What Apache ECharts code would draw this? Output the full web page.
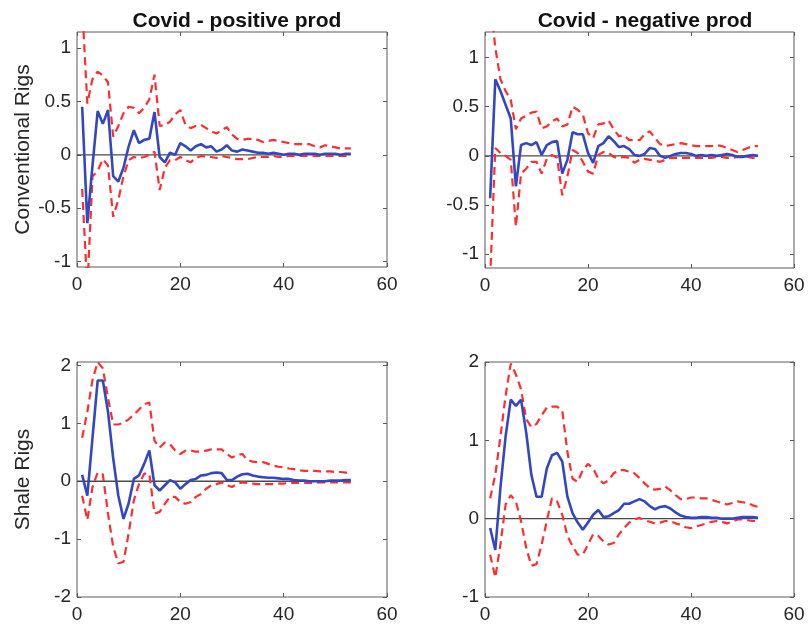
<!DOCTYPE html>
<html>
<head>
<meta charset="utf-8">
<title>Impulse responses of rig counts</title>
<script src="https://cdn.jsdelivr.net/npm/echarts@6/dist/echarts.min.js"></script>
<style>
  html, body { margin: 0; padding: 0; background: #fff; }
  #chart { width: 808px; height: 633px; }
</style>
</head>
<body>
<div id="chart"></div>
<script>
// Horizons (weeks after the shock)
const horizons = [1,2,3,4,5,6,7,8,9,10,11,12,13,14,15,16,17,18,19,20,21,22,23,24,25,26,27,28,29,30,31,32,33,34,35,36,37,38,39,40,41,42,43,44,45,46,47,48,49,50,51,52,53];

const columnTitles = ['Covid - positive prod', 'Covid - negative prod'];
const rowTitles = ['Conventional Rigs', 'Shale Rigs'];

const xTicks = [0, 20, 40, 60];
const yTicksConventional = [-1, -0.5, 0, 0.5, 1];
const yTicksShalePos = [-2, -1, 0, 1, 2];
const yTicksShaleNeg = [-1, 0, 1, 2];

// Conventional rigs, positive production shock
const convPosIrf = [0.45,-0.64,-0.1,0.41,0.29,0.42,-0.2,-0.25,-0.12,0.08,0.23,0.11,0.14,0.15,0.4,-0.02,-0.07,0.02,0.0,0.11,0.08,0.04,0.08,0.1,0.07,0.08,0.03,0.05,0.09,0.04,0.03,0.05,0.04,0.03,0.02,0.02,0.01,0.02,0.01,0.0,0.01,0.01,0.0,0.01,0.01,0.01,0.0,0.01,0.01,0.01,0.0,0.01,0.01];
const convPosUpper = [1.4,0.48,0.71,0.78,0.74,0.68,0.17,0.27,0.39,0.45,0.44,0.39,0.44,0.52,0.75,0.27,0.28,0.31,0.38,0.42,0.28,0.25,0.27,0.28,0.25,0.22,0.2,0.23,0.26,0.19,0.15,0.14,0.15,0.15,0.14,0.12,0.13,0.14,0.13,0.12,0.11,0.1,0.1,0.1,0.1,0.08,0.07,0.09,0.08,0.07,0.06,0.06,0.06];
const convPosLower = [-0.32,-1.25,-0.2,-0.15,-0.04,-0.1,-0.58,-0.42,-0.2,-0.05,-0.02,-0.03,-0.02,0.0,0.03,-0.33,-0.12,-0.05,-0.05,-0.02,-0.05,-0.07,-0.03,-0.01,-0.02,-0.02,-0.03,-0.01,-0.02,-0.03,-0.04,-0.04,-0.04,-0.03,-0.02,-0.02,-0.02,-0.01,-0.02,-0.02,-0.01,-0.01,-0.01,-0.01,-0.01,-0.01,-0.01,-0.01,-0.01,-0.01,-0.01,-0.01,-0.01];

// Conventional rigs, negative production shock
const convNegIrf = [-0.43,0.78,0.66,0.52,0.38,-0.31,0.11,0.13,0.11,0.14,0.01,0.11,0.14,0.15,-0.18,-0.04,0.24,0.22,0.22,0.03,-0.07,0.1,0.13,0.2,0.15,0.09,0.1,0.07,0.01,0.0,0.02,0.08,0.07,0.0,-0.02,0.0,0.02,0.03,0.03,0.02,0.0,0.01,0.0,0.01,0.0,0.01,0.02,0.01,-0.01,-0.01,0.0,0.01,0.0];
const convNegUpper = [1.6,1.1,0.78,0.66,0.57,0.27,0.38,0.41,0.44,0.45,0.28,0.3,0.35,0.38,0.3,0.32,0.5,0.47,0.42,0.23,0.18,0.32,0.33,0.36,0.27,0.2,0.21,0.16,0.16,0.16,0.22,0.25,0.18,0.12,0.1,0.11,0.12,0.13,0.12,0.11,0.1,0.1,0.1,0.1,0.11,0.1,0.08,0.06,0.04,0.06,0.08,0.1,0.1];
const convNegLower = [-1.25,0.08,0.03,0.0,-0.04,-0.72,-0.18,-0.13,-0.06,-0.06,-0.18,-0.03,0.01,-0.02,-0.4,-0.21,0.06,0.03,-0.06,-0.16,-0.18,0.01,0.04,0.03,-0.01,-0.02,-0.01,-0.02,-0.07,-0.04,-0.03,-0.04,-0.05,-0.06,-0.04,-0.02,-0.02,-0.02,-0.02,-0.02,-0.02,-0.02,-0.02,-0.02,-0.01,-0.01,-0.02,-0.02,-0.01,-0.01,-0.01,-0.02,-0.02];

// Shale rigs, positive production shock
const shalePosIrf = [0.11,-0.25,0.75,1.74,1.74,1.2,0.4,-0.25,-0.65,-0.38,0.04,0.1,0.3,0.53,-0.07,-0.16,-0.07,0.02,-0.02,-0.13,-0.05,0.02,0.04,0.1,0.11,0.14,0.15,0.14,0.02,0.02,0.08,0.12,0.13,0.1,0.08,0.07,0.06,0.06,0.05,0.04,0.04,0.02,0.01,0.01,0.0,0.0,0.0,0.0,0.01,0.01,0.01,0.02,0.02];
const shalePosUpper = [0.75,1.2,1.75,2.06,1.95,1.44,0.98,0.98,1.01,1.07,1.15,1.24,1.33,1.36,0.7,0.58,0.67,0.64,0.53,0.47,0.53,0.53,0.51,0.51,0.53,0.55,0.55,0.55,0.47,0.41,0.45,0.47,0.36,0.34,0.33,0.33,0.3,0.27,0.25,0.24,0.22,0.21,0.19,0.18,0.18,0.18,0.17,0.17,0.17,0.16,0.16,0.15,0.15];
const shalePosLower = [-0.25,-0.67,-0.1,0.15,0.12,-0.56,-1.13,-1.42,-1.39,-0.9,-0.33,-0.05,0.13,0.13,-0.56,-0.53,-0.39,-0.27,-0.27,-0.36,-0.39,-0.36,-0.27,-0.22,-0.13,-0.07,-0.05,-0.02,-0.07,-0.1,-0.04,-0.02,-0.03,-0.04,-0.05,-0.05,-0.05,-0.05,-0.04,-0.04,-0.03,-0.03,-0.03,-0.03,-0.03,-0.03,-0.02,-0.02,-0.02,-0.02,-0.02,-0.02,-0.02];

// Shale rigs, negative production shock
const shaleNegIrf = [-0.12,-0.4,0.4,1.05,1.52,1.44,1.52,1.1,0.56,0.28,0.28,0.64,0.81,0.84,0.73,0.28,0.07,-0.05,-0.14,-0.05,0.05,0.11,0.02,0.03,0.07,0.11,0.19,0.19,0.22,0.25,0.22,0.16,0.12,0.15,0.16,0.13,0.08,0.04,0.02,0.01,0.01,0.02,0.02,0.01,0.01,0.0,0.0,0.0,0.01,0.02,0.02,0.02,0.01];
const shaleNegUpper = [0.26,0.56,1.05,1.57,1.98,1.84,1.65,1.27,1.17,1.21,1.32,1.42,1.43,1.43,1.38,0.85,0.51,0.47,0.62,0.7,0.64,0.51,0.45,0.49,0.58,0.62,0.62,0.6,0.58,0.52,0.45,0.39,0.37,0.38,0.41,0.36,0.3,0.25,0.25,0.27,0.27,0.26,0.26,0.24,0.22,0.2,0.18,0.2,0.22,0.21,0.2,0.17,0.15];
const shaleNegLower = [-0.46,-0.75,-0.33,0.18,0.3,0.22,-0.03,-0.37,-0.6,-0.58,-0.33,-0.03,0.26,0.22,0.05,-0.22,-0.35,-0.46,-0.46,-0.33,-0.2,-0.22,-0.29,-0.33,-0.31,-0.2,-0.12,-0.05,-0.01,0.01,-0.02,-0.04,-0.06,-0.05,-0.03,-0.03,-0.06,-0.08,-0.11,-0.12,-0.1,-0.08,-0.06,-0.04,-0.03,-0.04,-0.06,-0.04,-0.01,-0.01,-0.02,-0.03,-0.03];

// Panel layout: each panel gets its own grid, axes range and series
const panels = [
  { grid: { left: 77,  top: 32,  width: 310, height: 235 }, yMin: -1.05, yMax: 1.15, yTicks: yTicksConventional, irf: convPosIrf,  upper: convPosUpper,  lower: convPosLower },
  { grid: { left: 485, top: 32,  width: 309, height: 236 }, yMin: -1.14, yMax: 1.26, yTicks: yTicksConventional, irf: convNegIrf,  upper: convNegUpper,  lower: convNegLower },
  { grid: { left: 77,  top: 362, width: 310, height: 235 }, yMin: -2,    yMax: 2.06, yTicks: yTicksShalePos,     irf: shalePosIrf, upper: shalePosUpper, lower: shalePosLower },
  { grid: { left: 485, top: 362, width: 309, height: 235 }, yMin: -1,    yMax: 2,    yTicks: yTicksShaleNeg,     irf: shaleNegIrf, upper: shaleNegUpper, lower: shaleNegLower }
];

const FONT = '"Liberation Sans", Arial, Helvetica, sans-serif';
const TEXT = '#262626';
const AXIS = '#5a5a5a';
const BLUE = '#3347c2';
const RED = '#ff2e2e';

const pairs = (vals) => horizons.map((h, i) => [h, vals[i]]);

const grids = [], xAxes = [], yAxes = [], series = [];

panels.forEach((p, i) => {
  grids.push(Object.assign({ show: true, borderColor: AXIS, borderWidth: 1, backgroundColor: '#fff', containLabel: false }, p.grid));

  const tickStyle = { show: true, inside: true, length: 4, lineStyle: { color: AXIS, width: 1 } };
  const noLine = { show: false, onZero: false };

  // bottom x axis with labels, top x axis with mirrored ticks only
  xAxes.push({
    type: 'value', gridIndex: i, position: 'bottom', min: 0, max: 60,
    axisLine: noLine,
    axisTick: Object.assign({ customValues: xTicks }, tickStyle),
    axisLabel: { customValues: xTicks, color: TEXT, fontFamily: FONT, fontSize: 19, margin: 8 },
    splitLine: { show: false }
  });
  xAxes.push({
    type: 'value', gridIndex: i, position: 'top', min: 0, max: 60,
    axisLine: noLine,
    axisTick: Object.assign({ customValues: xTicks }, tickStyle),
    axisLabel: { show: false },
    splitLine: { show: false }
  });

  // left y axis with labels, right y axis with mirrored ticks only
  yAxes.push({
    type: 'value', gridIndex: i, position: 'left', min: p.yMin, max: p.yMax,
    axisLine: noLine,
    axisTick: Object.assign({ customValues: p.yTicks }, tickStyle),
    axisLabel: { customValues: p.yTicks, color: TEXT, fontFamily: FONT, fontSize: 19, margin: 6 },
    splitLine: { show: false }
  });
  yAxes.push({
    type: 'value', gridIndex: i, position: 'right', min: p.yMin, max: p.yMax,
    axisLine: noLine,
    axisTick: Object.assign({ customValues: p.yTicks }, tickStyle),
    axisLabel: { show: false },
    splitLine: { show: false }
  });

  const axisRef = { xAxisIndex: 2 * i, yAxisIndex: 2 * i };
  const common = { type: 'line', showSymbol: false, symbol: 'none', silent: true, animation: false, clip: true };

  // zero reference line across the horizon
  series.push(Object.assign({}, common, axisRef, {
    data: [[0, 0], [horizons[horizons.length - 1], 0]],
    lineStyle: { color: '#4a4a4a', width: 1.3 }, z: 1
  }));
  // confidence bands
  series.push(Object.assign({}, common, axisRef, {
    data: pairs(p.upper),
    lineStyle: { color: RED, width: 2.2, type: [8, 5] }, z: 2
  }));
  series.push(Object.assign({}, common, axisRef, {
    data: pairs(p.lower),
    lineStyle: { color: RED, width: 2.2, type: [8, 5] }, z: 2
  }));
  // point estimate
  series.push(Object.assign({}, common, axisRef, {
    data: pairs(p.irf),
    lineStyle: { color: BLUE, width: 2.6 }, z: 3
  }));
});

const chart = echarts.init(document.getElementById('chart'), null, { renderer: 'canvas' });
chart.setOption({
  backgroundColor: '#fff',
  animation: false,
  title: [
    { text: columnTitles[0], left: 232, top: 6, textAlign: 'center',
      textStyle: { fontFamily: FONT, fontSize: 21, fontWeight: 'bold', color: '#111' } },
    { text: columnTitles[1], left: 640, top: 6, textAlign: 'center',
      textStyle: { fontFamily: FONT, fontSize: 21, fontWeight: 'bold', color: '#111' } }
  ],
  graphic: [
    { type: 'text', x: 23, y: 149.5, rotation: Math.PI / 2,
      style: { text: rowTitles[0], font: '21px ' + FONT, fill: TEXT, textAlign: 'center', textVerticalAlign: 'middle' } },
    { type: 'text', x: 23, y: 479.5, rotation: Math.PI / 2,
      style: { text: rowTitles[1], font: '21px ' + FONT, fill: TEXT, textAlign: 'center', textVerticalAlign: 'middle' } }
  ],
  grid: grids,
  xAxis: xAxes,
  yAxis: yAxes,
  series: series
});
</script>
</body>
</html>
